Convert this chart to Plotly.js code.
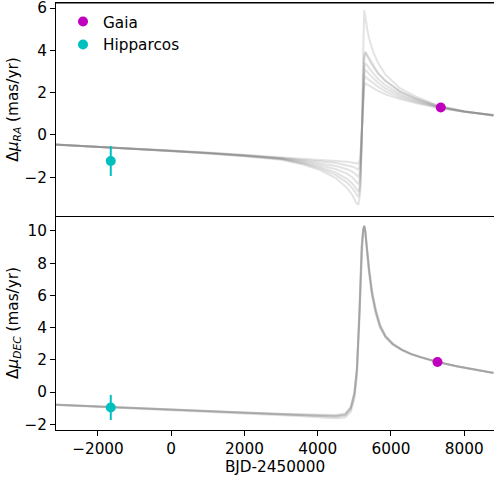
<!DOCTYPE html>
<html>
<head>
<meta charset="utf-8">
<script src="https://cdn.plot.ly/plotly-3.0.1.min.js"></script>
<style>
  html, body { margin: 0; padding: 0; background: #ffffff; }
  #chart { width: 494px; height: 477px; }
</style>
</head>
<body>
<div id="chart"></div>
<script>
// Epochs (BJD - 2450000) at which the orbit model draws are sampled
const tRA = [-3200, -2000, -1000, 0, 1000, 2000, 3000, 3600, 4100, 4500, 4800, 4950, 5050, 5110,
             5160, 5200, 5240, 5270, 5300, 5350, 5420, 5520, 5650, 5850, 6250, 6700, 7300, 8000, 8800];

// Proper-motion anomaly in RA for each model draw (mas/yr)
const raDrawA = [-0.46, -0.55, -0.64, -0.73, -0.83, -0.94, -1.08, -1.12, -1.17, -1.22, -1.27, -1.31, -1.34, -1.35,
                 -1.10, 0.20, 1.80, 2.30, 2.44, 2.40, 2.32, 2.22, 2.08, 1.92, 1.70, 1.50, 1.28, 1.10, 0.95];
const raDrawB = [-0.46, -0.55, -0.65, -0.74, -0.84, -0.95, -1.09, -1.17, -1.25, -1.33, -1.42, -1.50, -1.58, -1.64,
                 -1.35, 0.00, 1.90, 2.55, 2.76, 2.70, 2.58, 2.45, 2.27, 2.06, 1.78, 1.55, 1.30, 1.10, 0.94];
const raDrawC = [-0.46, -0.56, -0.65, -0.74, -0.85, -0.96, -1.10, -1.22, -1.34, -1.47, -1.62, -1.74, -1.88, -1.98,
                 -1.70, -0.20, 2.00, 2.85, 3.07, 3.00, 2.85, 2.68, 2.46, 2.20, 1.86, 1.60, 1.31, 1.10, 0.93];
const raDrawD = [-0.45, -0.56, -0.65, -0.75, -0.85, -0.97, -1.11, -1.27, -1.44, -1.62, -1.83, -2.01, -2.20, -2.33,
                 -2.00, -0.30, 2.20, 3.15, 3.39, 3.30, 3.12, 2.90, 2.65, 2.35, 1.95, 1.65, 1.33, 1.11, 0.93];
const raDrawE = [-0.45, -0.56, -0.66, -0.75, -0.86, -0.98, -1.13, -1.32, -1.53, -1.78, -2.07, -2.30, -2.55, -2.68,
                 -2.30, -0.40, 2.50, 3.60, 3.89, 3.75, 3.50, 3.20, 2.90, 2.55, 2.05, 1.70, 1.35, 1.11, 0.92];
const raDrawF = [-0.45, -0.56, -0.66, -0.76, -0.86, -0.99, -1.14, -1.35, -1.60, -1.90, -2.25, -2.52, -2.80, -2.93,
                 -2.50, -0.50, 2.60, 3.70, 3.95, 3.80, 3.55, 3.25, 2.92, 2.56, 2.06, 1.72, 1.36, 1.12, 0.92];
const raDrawG = [-0.45, -0.56, -0.66, -0.76, -0.87, -1.00, -1.17, -1.40, -1.68, -2.05, -2.50, -2.85, -3.20, -3.30,
                 -2.75, -0.40, 3.80, 5.90, 5.60, 5.00, 4.45, 3.90, 3.40, 2.85, 2.20, 1.80, 1.38, 1.12, 0.91];

const tDEC = [-3200, -2000, -1000, 0, 1000, 2000, 3000, 3600, 4100, 4500, 4750, 4900, 5000, 5070, 5140, 5200,
              5240, 5270, 5300, 5340, 5400, 5480, 5580, 5700, 5850, 6050, 6300, 6550, 6800, 7270, 7800, 8800];

// Proper-motion anomaly in Dec for each model draw (mas/yr)
const decDrawA = [-0.78, -0.90, -1.00, -1.10, -1.19, -1.28, -1.37, -1.43, -1.48, -1.50, -1.42, -1.00, -0.10, 1.40, 5.00, 9.00,
                  10.05, 10.33, 9.95, 8.85, 7.55, 6.15, 5.05, 4.10, 3.45, 2.98, 2.62, 2.36, 2.17, 1.87, 1.60, 1.19];
const decDrawB = [-0.79, -0.91, -1.01, -1.11, -1.21, -1.31, -1.42, -1.50, -1.57, -1.62, -1.58, -1.25, -0.45, 0.95, 4.50, 8.70,
                  9.95, 10.30, 10.00, 9.00, 7.75, 6.35, 5.20, 4.20, 3.50, 3.02, 2.64, 2.37, 2.18, 1.87, 1.59, 1.18];
const decDrawC = [-0.77, -0.89, -0.99, -1.09, -1.18, -1.26, -1.34, -1.38, -1.41, -1.42, -1.33, -0.92, -0.02, 1.55, 5.20, 9.10,
                  10.10, 10.30, 9.90, 8.75, 7.40, 6.00, 4.90, 4.00, 3.38, 2.94, 2.60, 2.35, 2.16, 1.87, 1.61, 1.20];
const decDrawD = [-0.78, -0.90, -1.00, -1.10, -1.20, -1.29, -1.38, -1.45, -1.50, -1.53, -1.46, -1.08, -0.22, 1.30, 4.90, 8.95,
                  10.00, 10.35, 10.00, 8.95, 7.65, 6.25, 5.12, 4.15, 3.48, 3.00, 2.63, 2.37, 2.17, 1.87, 1.60, 1.19];
const decDrawE = [-0.78, -0.90, -1.00, -1.10, -1.19, -1.28, -1.36, -1.41, -1.45, -1.46, -1.38, -0.98, -0.08, 1.45, 5.05, 9.05,
                  10.05, 10.30, 9.92, 8.80, 7.48, 6.08, 4.98, 4.05, 3.42, 2.96, 2.61, 2.36, 2.17, 1.87, 1.61, 1.20];

// Measured proper-motion anomalies
const hipEpoch = [-1651];
const hipRA = [-1.23];
const hipRAErr = [0.71];
const hipDEC = [-0.95];
const hipDECErr = [0.78];

const gaiaEpochRA = [7360];
const gaiaRA = [1.30];
const gaiaEpochDEC = [7270];
const gaiaDEC = [1.87];

// Axis ticks
const xTickVals = [-2000, 0, 2000, 4000, 6000, 8000];
const xTickText = ['\u22122000', '0', '2000', '4000', '6000', '8000'];
const raTickVals = [-2, 0, 2, 4, 6];
const raTickText = ['\u22122', '0', '2', '4', '6'];
const decTickVals = [-2, 0, 2, 4, 6, 8, 10];
const decTickText = ['\u22122', '0', '2', '4', '6', '8', '10'];

const drawColor = 'rgba(128,128,128,0.22)';
const gaiaColor = '#bf00bf';
const hipColor = '#00bfbf';
const fontSize = 15.28;

const traces = [];

[raDrawA, raDrawB, raDrawC, raDrawD, raDrawE, raDrawF, raDrawG].forEach(ys => {
  traces.push({
    type: 'scatter', mode: 'lines', x: tRA, y: ys, xaxis: 'x2', yaxis: 'y2',
    line: { color: drawColor, width: 2 }, hoverinfo: 'skip', showlegend: false
  });
});
[decDrawA, decDrawB, decDrawC, decDrawD, decDrawE].forEach(ys => {
  traces.push({
    type: 'scatter', mode: 'lines', x: tDEC, y: ys, xaxis: 'x', yaxis: 'y',
    line: { color: drawColor, width: 2 }, hoverinfo: 'skip', showlegend: false
  });
});

const errStyle = (arr, color) => ({ type: 'data', array: arr, visible: true, color: color, thickness: 2, width: 0 });

traces.push({
  type: 'scatter', mode: 'markers', name: 'Gaia', legendrank: 1,
  x: gaiaEpochRA, y: gaiaRA, xaxis: 'x2', yaxis: 'y2',
  marker: { color: gaiaColor, size: 10 }
});
traces.push({
  type: 'scatter', mode: 'markers', name: 'Hipparcos', legendrank: 2,
  x: hipEpoch, y: hipRA, xaxis: 'x2', yaxis: 'y2',
  error_y: errStyle(hipRAErr, hipColor),
  marker: { color: hipColor, size: 10 }
});
traces.push({
  type: 'scatter', mode: 'markers', name: 'Gaia', showlegend: false,
  x: gaiaEpochDEC, y: gaiaDEC, xaxis: 'x', yaxis: 'y',
  marker: { color: gaiaColor, size: 10 }
});
traces.push({
  type: 'scatter', mode: 'markers', name: 'Hipparcos', showlegend: false,
  x: hipEpoch, y: hipDEC, xaxis: 'x', yaxis: 'y',
  error_y: errStyle(hipDECErr, hipColor),
  marker: { color: hipColor, size: 10 }
});

const split = 0.5012;
const frame = { showline: true, linecolor: 'black', linewidth: 1, showgrid: false, zeroline: false };

const layout = {
  width: 494, height: 477,
  margin: { l: 56, r: 0, t: 3, b: 47, pad: 0 },
  paper_bgcolor: '#ffffff', plot_bgcolor: '#ffffff',
  font: { family: 'DejaVu Sans', size: fontSize, color: '#000000' },
  showlegend: true,
  legend: {
    x: 0.016, y: 0.995, xanchor: 'left', yanchor: 'top',
    bgcolor: 'rgba(0,0,0,0)', font: { size: fontSize }, traceorder: 'normal'
  },
  // top edge of the upper panel's frame
  shapes: [{
    type: 'line', xref: 'paper', yref: 'paper', x0: 0, x1: 1, y0: 1, y1: 1,
    line: { color: '#000000', width: 1.2 }, layer: 'above'
  }],
  xaxis: Object.assign({}, frame, {
    domain: [0, 1], anchor: 'y', range: [-3146, 8813], mirror: false,
    tickmode: 'array', tickvals: xTickVals, ticktext: xTickText,
    ticks: 'outside', ticklen: 5, tickwidth: 1, tickcolor: '#000000',
    ticklabeloverflow: 'allow',
    title: { text: 'BJD-2450000', font: { size: fontSize }, standoff: 0 }
  }),
  xaxis2: Object.assign({}, frame, {
    domain: [0, 1], anchor: 'y2', matches: 'x', range: [-3146, 8813], mirror: true,
    showticklabels: false, ticks: ''
  }),
  yaxis: Object.assign({}, frame, {
    domain: [0, split], anchor: 'x', range: [-2.35, 10.93], mirror: true,
    tickmode: 'array', tickvals: decTickVals, ticktext: decTickText,
    ticks: 'outside', ticklen: 5, tickwidth: 1, tickcolor: '#000000',
    ticklabeloverflow: 'allow',
    title: { text: '\u0394<i>\u03bc</i><sub><i>DEC</i></sub> (mas/yr)', font: { size: fontSize }, standoff: 1.5 }
  }),
  yaxis2: Object.assign({}, frame, {
    domain: [split, 1], anchor: 'x2', range: [-3.83, 6.24], mirror: true,
    tickmode: 'array', tickvals: raTickVals, ticktext: raTickText,
    ticks: 'outside', ticklen: 5, tickwidth: 1, tickcolor: '#000000',
    ticklabeloverflow: 'allow',
    title: { text: '\u0394<i>\u03bc</i><sub><i>RA</i></sub> (mas/yr)', font: { size: fontSize }, standoff: 1.5 }
  })
};

Plotly.newPlot('chart', traces, layout, { displayModeBar: false, staticPlot: true });
</script>
</body>
</html>
